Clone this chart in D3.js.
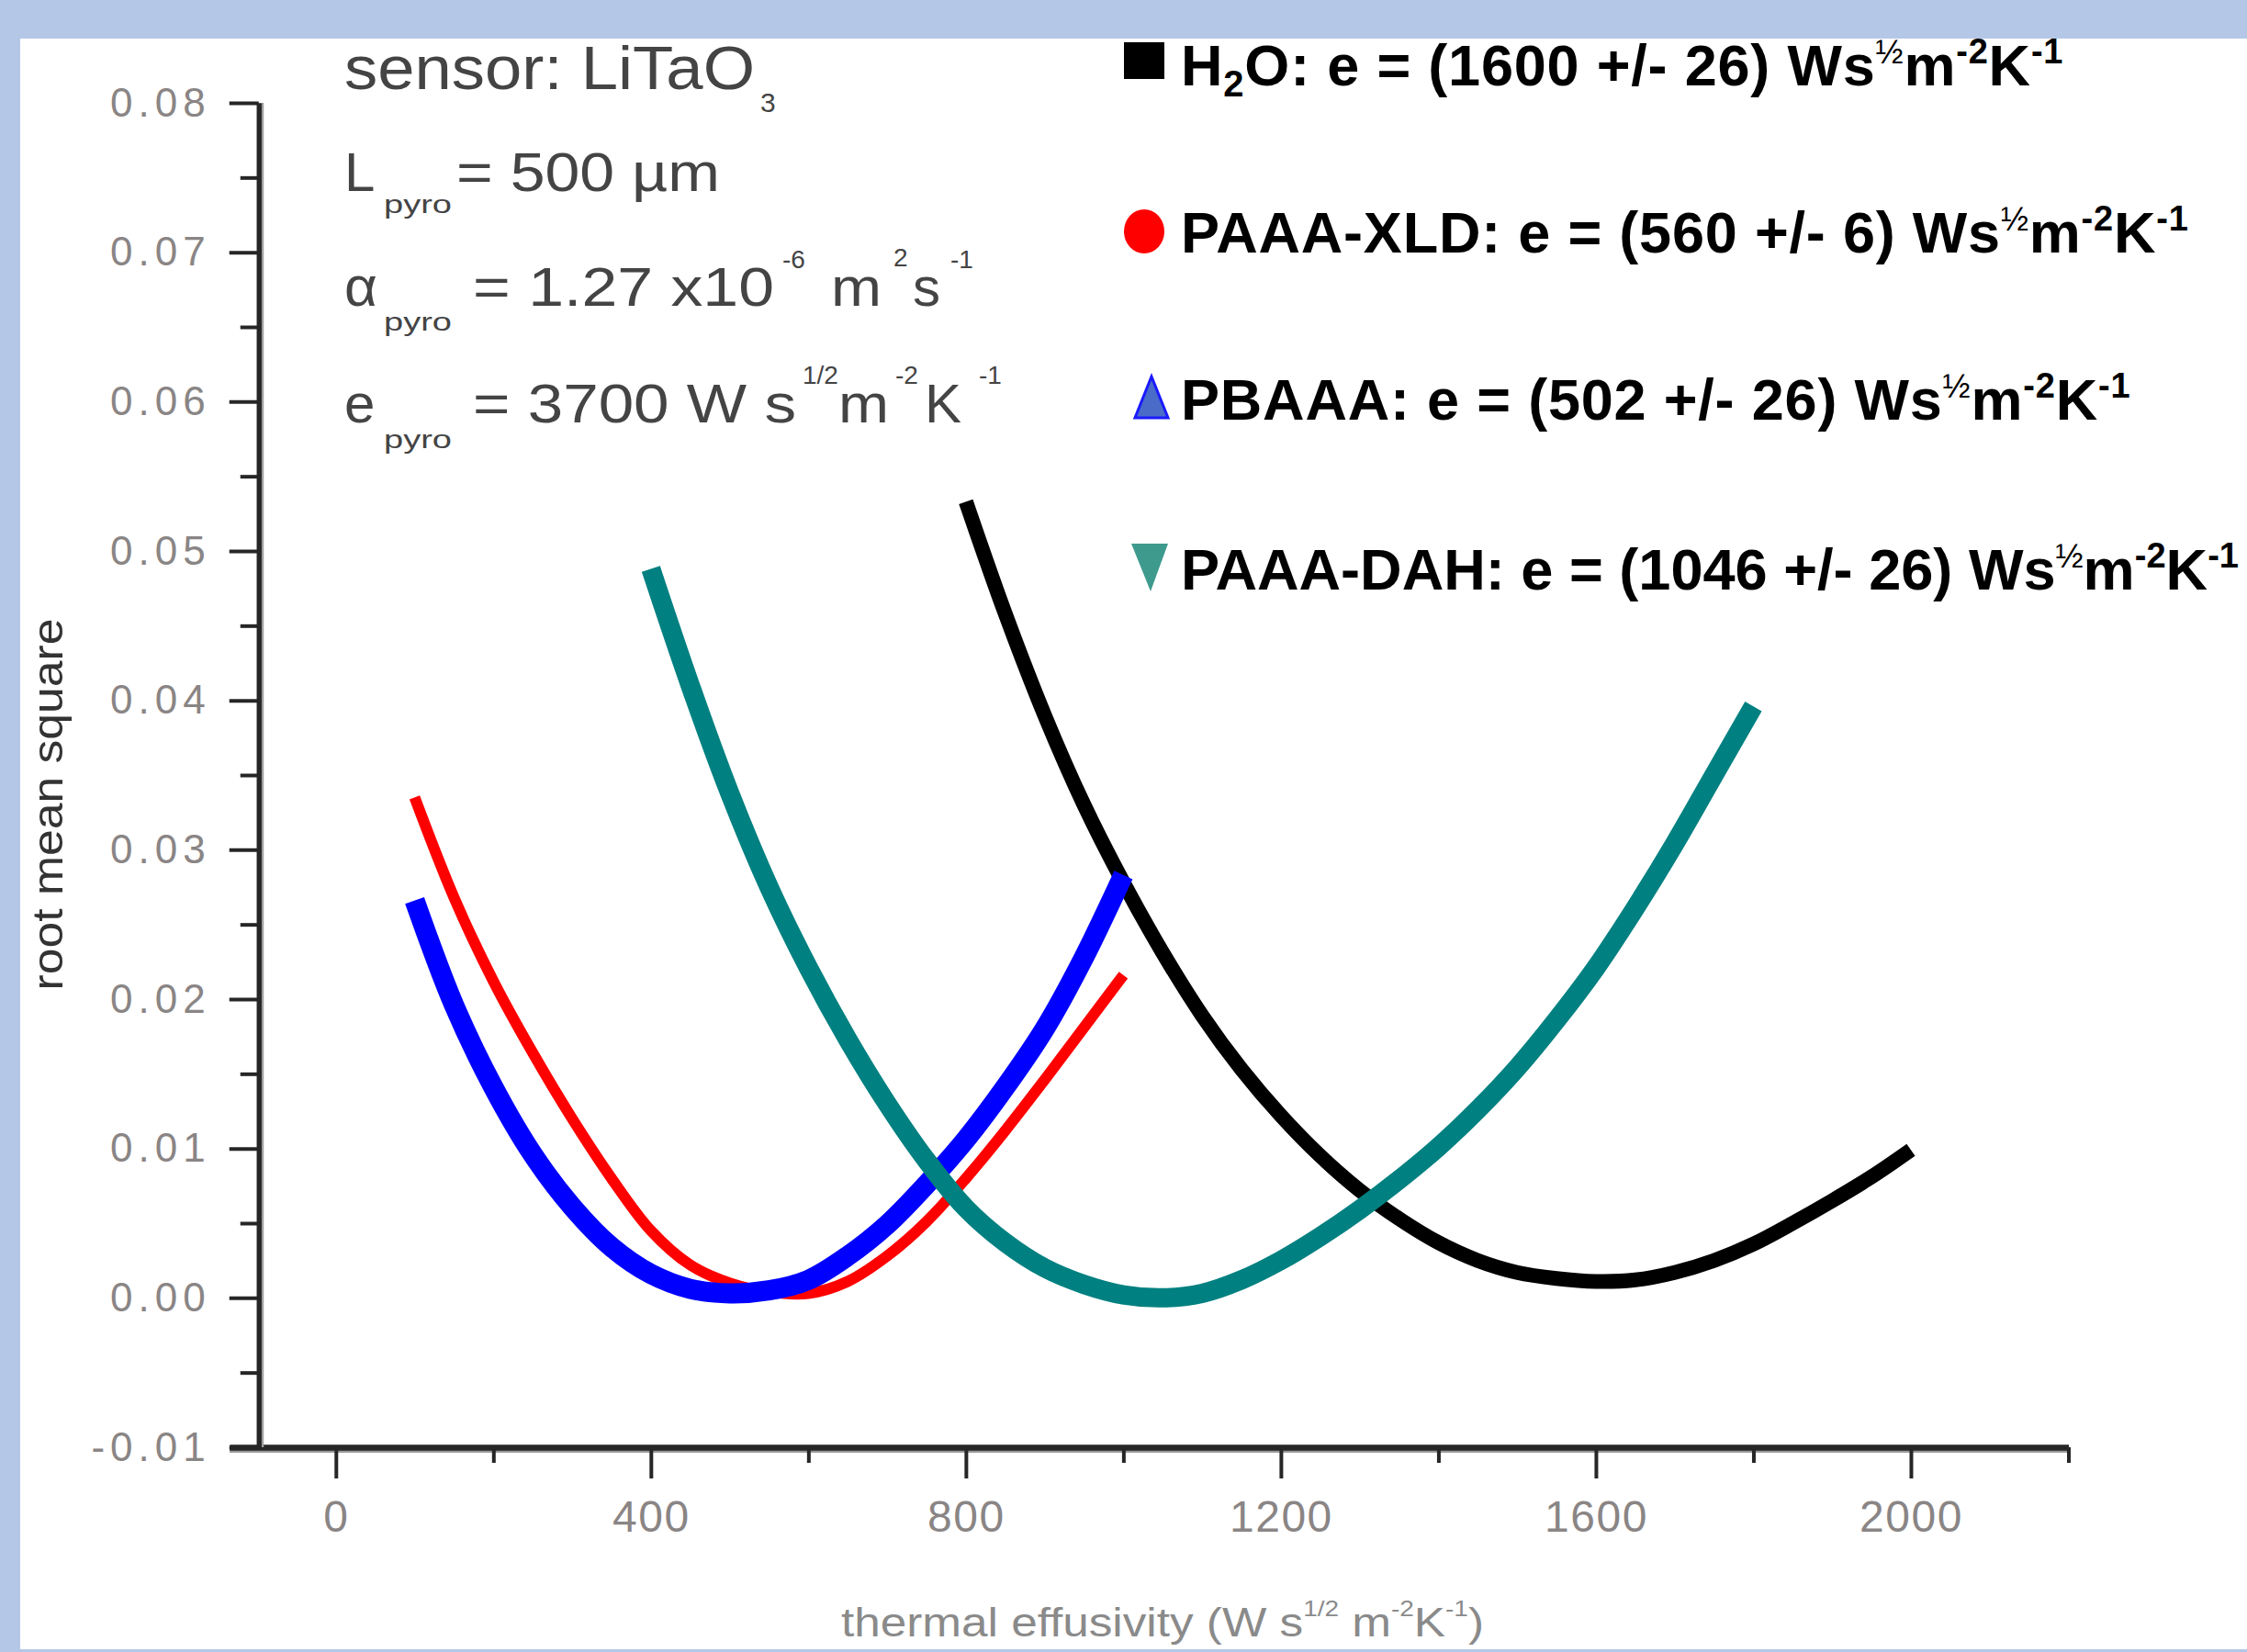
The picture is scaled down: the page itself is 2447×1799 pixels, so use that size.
<!DOCTYPE html>
<html>
<head>
<meta charset="utf-8">
<script src="https://cdn.jsdelivr.net/npm/d3@7"></script>
<style>
  html, body { margin: 0; padding: 0; background: #b4c7e7; }
  svg { display: block; }
  text { font-family: "Liberation Sans", Arial, sans-serif; }
</style>
</head>
<body>
<svg id="chart" width="2447" height="1799"></svg>
<script>
// ---------------- data ----------------
const seriesNames = ["H2O", "PAAA-XLD", "PBAAA", "PAAA-DAH"];
const seriesColors = ["#000000", "#ff0000", "#0000ff", "#008080"];

const h2oX = [800, 850, 900, 950, 1000, 1050, 1100, 1150, 1200, 1250, 1300, 1350, 1400, 1450, 1500, 1550, 1600, 1650, 1700, 1750, 1800, 1850, 1900, 1950, 2000];
const h2oY = [0.0533, 0.0458, 0.0390, 0.0330, 0.0278, 0.0231, 0.0189, 0.0153, 0.0122, 0.0095, 0.0072, 0.0053, 0.0037, 0.0025, 0.0017, 0.0013, 0.0011, 0.0012, 0.0017, 0.0025, 0.0036, 0.0050, 0.0065, 0.0081, 0.0099];

const xldX = [100, 150, 200, 250, 300, 350, 400, 450, 500, 550, 600, 650, 700, 750, 800, 850, 900, 950, 1000];
const xldY = [0.0335, 0.0268, 0.0212, 0.0164, 0.0120, 0.0080, 0.0045, 0.0022, 0.0010, 0.0004, 0.0003, 0.0011, 0.0028, 0.0051, 0.0080, 0.0112, 0.0146, 0.0181, 0.0216];

const pbaaaX = [100, 150, 200, 250, 300, 350, 400, 450, 500, 550, 600, 650, 700, 750, 800, 850, 900, 950, 1000];
const pbaaaY = [0.0266, 0.0196, 0.0141, 0.0096, 0.0061, 0.0034, 0.0016, 0.0006, 0.0003, 0.0005, 0.0012, 0.0028, 0.0049, 0.0076, 0.0106, 0.0141, 0.0180, 0.0228, 0.0283];

const dahX = [400, 450, 500, 550, 600, 650, 700, 750, 800, 850, 900, 950, 1000, 1050, 1100, 1150, 1200, 1250, 1300, 1350, 1400, 1450, 1500, 1550, 1600, 1650, 1700, 1750, 1800];
const dahY = [0.0488, 0.0410, 0.0338, 0.0275, 0.0221, 0.0173, 0.0130, 0.0092, 0.0060, 0.0037, 0.0020, 0.0009, 0.0002, 0.0000, 0.0003, 0.0012, 0.0025, 0.0041, 0.0059, 0.0079, 0.0101, 0.0126, 0.0154, 0.0186, 0.0221, 0.0261, 0.0304, 0.0350, 0.0396];

const xMajorTicks = [0, 400, 800, 1200, 1600, 2000];
const xMinorTicks = [200, 600, 1000, 1400, 1800, 2200];
const xTickLabels = ["0", "400", "800", "1200", "1600", "2000"];
const yMajorTicks = [-0.01, 0.00, 0.01, 0.02, 0.03, 0.04, 0.05, 0.06, 0.07, 0.08];
const yTickLabels = ["-0.01", "0.00", "0.01", "0.02", "0.03", "0.04", "0.05", "0.06", "0.07", "0.08"];
const yMinorTicks = [-0.005, 0.005, 0.015, 0.025, 0.035, 0.045, 0.055, 0.065, 0.075];

const legendValues = ["1600 +/- 26", "560 +/- 6", "502 +/- 26", "1046 +/- 26"];

// ---------------- drawing ----------------
const svg = d3.select("#chart");
svg.append("rect").attr("x", 0).attr("y", 0).attr("width", 2447).attr("height", 1799).attr("fill", "#b4c7e7");
svg.append("rect").attr("x", 22).attr("y", 42).attr("width", 2425).attr("height", 1754).attr("fill", "#ffffff");

const x = d3.scaleLinear().domain([-135, 2200]).range([250, 2252.5]);
const y = d3.scaleLinear().domain([-0.01, 0.08]).range([1576, 112]);
const yAxisX = x(-98);

// curves (draw order: black, red, blue, teal)
const widths = [16, 12, 22, 21];
const allX = [h2oX, xldX, pbaaaX, dahX];
const allY = [h2oY, xldY, pbaaaY, dahY];
const line = d3.line().x(d => x(d[0])).y(d => y(d[1])).curve(d3.curveCatmullRom.alpha(0.5));
const gCurves = svg.append("g");
allX.forEach((xs, i) => {
  const pts = xs.map((v, j) => [v, allY[i][j]]);
  gCurves.append("path")
    .datum(pts)
    .attr("d", line)
    .attr("fill", "none")
    .attr("stroke", seriesColors[i])
    .attr("stroke-width", widths[i])
    .attr("stroke-linejoin", "round")
    .attr("stroke-linecap", "butt");
});

// x axis
const axisY = y(-0.01);
svg.append("line").attr("x1", 250).attr("x2", x(2200) + 2).attr("y1", axisY + 4).attr("y2", axisY + 4)
  .attr("stroke", "#9a9a9a").attr("stroke-width", 4);
const gx = svg.append("g").attr("transform", `translate(0,${axisY})`);
gx.call(d3.axisBottom(x).tickValues(xMajorTicks).tickSize(34).tickSizeOuter(0).tickPadding(24)
  .tickFormat((d, i) => xTickLabels[i]));
const gxm = svg.append("g").attr("transform", `translate(0,${axisY})`);
gxm.call(d3.axisBottom(x).tickValues(xMinorTicks).tickSize(17).tickSizeOuter(0).tickFormat(""));
[gx, gxm].forEach(g => {
  g.select(".domain").attr("stroke", "#262626").attr("stroke-width", 6);
  g.selectAll(".tick line").attr("stroke", "#262626").attr("stroke-width", 4);
});
gx.selectAll(".tick text").attr("font-size", 48).attr("fill", "#8a8585").attr("letter-spacing", 1.5);

// y axis
svg.append("line").attr("x1", yAxisX + 4).attr("x2", yAxisX + 4).attr("y1", y(0.08)).attr("y2", axisY)
  .attr("stroke", "#a0a0a0").attr("stroke-width", 3);
const gy = svg.append("g").attr("transform", `translate(${yAxisX},0)`);
gy.call(d3.axisLeft(y).tickValues(yMajorTicks).tickSize(32).tickSizeOuter(0).tickPadding(20)
  .tickFormat((d, i) => yTickLabels[i]));
const gym = svg.append("g").attr("transform", `translate(${yAxisX},0)`);
gym.call(d3.axisLeft(y).tickValues(yMinorTicks).tickSize(20).tickSizeOuter(0).tickFormat(""));
[gy, gym].forEach(g => {
  g.select(".domain").attr("stroke", "#262626").attr("stroke-width", 5);
  g.selectAll(".tick line").attr("stroke", "#262626").attr("stroke-width", 4);
});
gy.selectAll(".tick text").attr("font-size", 44).attr("fill", "#8a8585").attr("letter-spacing", 6);

// axis titles
const xt = svg.append("text").attr("x", 916).attr("y", 1782).attr("font-size", 44).attr("fill", "#8a8a8a")
  .attr("textLength", 700).attr("lengthAdjust", "spacingAndGlyphs");
xt.append("tspan").text("thermal effusivity (W s");
xt.append("tspan").attr("dy", -22).attr("font-size", 24).text("1/2");
xt.append("tspan").attr("dy", 22).text(" m");
xt.append("tspan").attr("dy", -22).attr("font-size", 24).text("-2");
xt.append("tspan").attr("dy", 22).text("K");
xt.append("tspan").attr("dy", -22).attr("font-size", 24).text("-1");
xt.append("tspan").attr("dy", 22).text(")");

svg.append("text").attr("transform", "translate(68,876) rotate(-90)").attr("text-anchor", "middle")
  .attr("font-size", 46).attr("fill", "#333333").attr("textLength", 405).attr("lengthAdjust", "spacingAndGlyphs")
  .text("root mean square");

// annotations (sensor parameters)
const ann = svg.append("g").attr("fill", "#444444");
function t(xp, yp, size, str, len) {
  const e = ann.append("text").attr("x", xp).attr("y", yp).attr("font-size", size).text(str);
  if (len) e.attr("textLength", len).attr("lengthAdjust", "spacingAndGlyphs");
  return e;
}
t(375, 97, 66, "sensor: LiTaO", 447);
t(828, 122, 30, "3");
t(375, 208, 60, "L");
t(418, 232, 28, "pyro", 74);
t(497, 208, 60, "= 500 \u00b5m", 287);
t(375, 333, 62, "\u03b1");
t(418, 360, 28, "pyro", 74);
t(515, 333, 60, "= 1.27 x10", 328);
t(852, 292, 28, "-6");
t(905, 333, 60, "m", 55);
t(973, 290, 28, "2");
t(994, 333, 60, "s");
t(1035, 292, 28, "-1");
t(375, 460, 60, "e");
t(418, 488, 28, "pyro", 74);
t(515, 460, 60, "= 3700 W s", 352);
t(874, 418, 28, "1/2");
t(913, 460, 60, "m", 55);
t(975, 418, 28, "-2");
t(1007, 460, 60, "K");
t(1066, 418, 28, "-1");

// legend
const legY = [93, 275, 457, 642];
const leg = svg.append("g");
leg.append("rect").attr("x", 1224).attr("y", 46).attr("width", 44).attr("height", 40).attr("fill", seriesColors[0]);
leg.append("ellipse").attr("cx", 1246).attr("cy", 252).attr("rx", 22).attr("ry", 24).attr("fill", seriesColors[1]);
leg.append("path").attr("d", "M1254,410 L1272,455 L1236,455 Z").attr("fill", "#4a6cc8").attr("stroke", "#1a1aff").attr("stroke-width", 3);
leg.append("path").attr("d", "M1232,592 L1272,592 L1253,644 Z").attr("fill", "#3f9a8e");

seriesNames.forEach((name, i) => {
  const tx = leg.append("text").attr("x", 1286).attr("y", legY[i]).attr("font-size", 63)
    .attr("font-weight", "bold").attr("fill", "#000").attr("letter-spacing", 0.8);
  if (i === 3) tx.attr("letter-spacing", 0).attr("textLength", 1152).attr("lengthAdjust", "spacingAndGlyphs");
  if (name === "H2O") {
    tx.append("tspan").text("H");
    tx.append("tspan").attr("dy", 12).attr("font-size", 40).text("2");
    tx.append("tspan").attr("dy", -12).text("O");
  } else {
    tx.append("tspan").text(name);
  }
  tx.append("tspan").text(": e = (" + legendValues[i] + ") Ws");
  tx.append("tspan").attr("dy", -24).attr("font-size", 36).attr("font-weight", "normal").text("\u00bd");
  tx.append("tspan").attr("dy", 24).text("m");
  tx.append("tspan").attr("dy", -24).attr("font-size", 38).text("-2");
  tx.append("tspan").attr("dy", 24).text("K");
  tx.append("tspan").attr("dy", -24).attr("font-size", 38).text("-1");
});
</script>
</body>
</html>
